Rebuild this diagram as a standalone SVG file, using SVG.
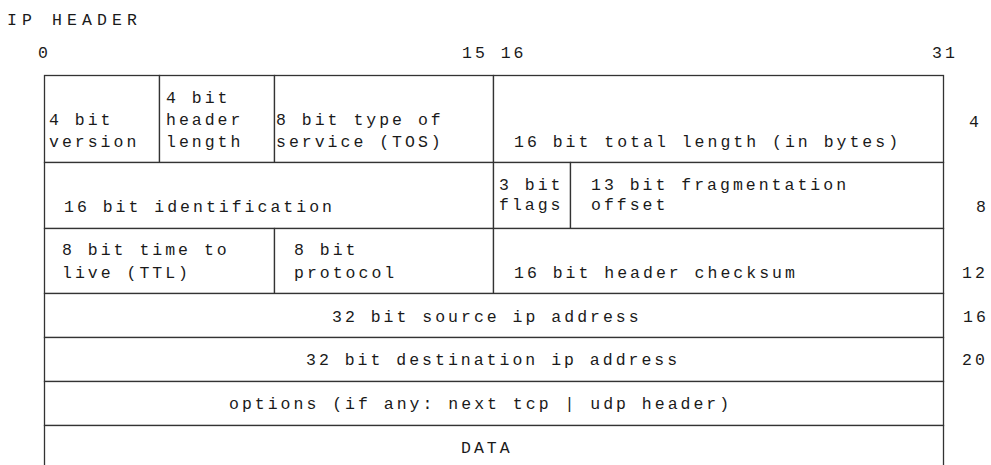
<svg xmlns="http://www.w3.org/2000/svg" width="991" height="465" viewBox="0 0 991 465">
  <style>
    .cell { fill: #ffffff; stroke: #333333; stroke-width: 1.3; }
    .t { font-family: "Liberation Mono", "DejaVu Sans Mono", monospace; font-size: 16.5px; letter-spacing: 3px; fill: #1a1a1a; }
    .title { letter-spacing: 5.1px; }
  </style>
  <rect x="0" y="0" width="991" height="465" fill="#ffffff"/>

  <!-- title and bit ruler -->
  <g id="title">
    <text class="t title" x="7" y="25">IP HEADER</text>
  </g>
  <g id="ruler">
    <text class="t" x="38" y="58">0</text>
    <text class="t" x="462" y="58">15 16</text>
    <text class="t" x="932" y="58">31</text>
  </g>

  <!-- byte offsets -->
  <g id="offsets">
    <text class="t" x="969" y="127">4</text>
    <text class="t" x="976" y="212">8</text>
    <text class="t" x="962" y="278">12</text>
    <text class="t" x="963" y="322">16</text>
    <text class="t" x="962" y="365">20</text>
  </g>

  <!-- row 1 -->
  <g id="version">
    <rect class="cell" x="44.5" y="75.5" width="115" height="87"/>
    <text class="t" x="49" y="125">4 bit</text>
    <text class="t" x="49" y="147">version</text>
  </g>
  <g id="header-length">
    <rect class="cell" x="159.5" y="75.5" width="115" height="87"/>
    <text class="t" x="166" y="103">4 bit</text>
    <text class="t" x="166" y="125">header</text>
    <text class="t" x="166" y="147">length</text>
  </g>
  <g id="tos">
    <rect class="cell" x="274.5" y="75.5" width="219" height="87"/>
    <text class="t" x="276" y="125">8 bit type of</text>
    <text class="t" x="276" y="147">service (TOS)</text>
  </g>
  <g id="total-length">
    <rect class="cell" x="493.5" y="75.5" width="450" height="87"/>
    <text class="t" x="514" y="147">16 bit total length (in bytes)</text>
  </g>

  <!-- row 2 -->
  <g id="identification">
    <rect class="cell" x="44.5" y="162.5" width="449" height="66"/>
    <text class="t" x="64" y="212">16 bit identification</text>
  </g>
  <g id="flags">
    <rect class="cell" x="493.5" y="162.5" width="77" height="66"/>
    <text class="t" x="499" y="190">3 bit</text>
    <text class="t" x="499" y="210">flags</text>
  </g>
  <g id="fragment-offset">
    <rect class="cell" x="570.5" y="162.5" width="373" height="66"/>
    <text class="t" x="591" y="190">13 bit fragmentation</text>
    <text class="t" x="591" y="210">offset</text>
  </g>

  <!-- row 3 -->
  <g id="ttl">
    <rect class="cell" x="44.5" y="228.5" width="230" height="65"/>
    <text class="t" x="62" y="255">8 bit time to</text>
    <text class="t" x="62" y="278">live (TTL)</text>
  </g>
  <g id="protocol">
    <rect class="cell" x="274.5" y="228.5" width="219" height="65"/>
    <text class="t" x="294" y="255">8 bit</text>
    <text class="t" x="294" y="278">protocol</text>
  </g>
  <g id="checksum">
    <rect class="cell" x="493.5" y="228.5" width="450" height="65"/>
    <text class="t" x="514" y="278">16 bit header checksum</text>
  </g>

  <!-- full-width rows -->
  <g id="source-address">
    <rect class="cell" x="44.5" y="293.5" width="899" height="44"/>
    <text class="t" x="332" y="322">32 bit source ip address</text>
  </g>
  <g id="destination-address">
    <rect class="cell" x="44.5" y="337.5" width="899" height="44"/>
    <text class="t" x="306" y="365">32 bit destination ip address</text>
  </g>
  <g id="options">
    <rect class="cell" x="44.5" y="381.5" width="899" height="44"/>
    <text class="t" x="229" y="409">options (if any: next tcp | udp header)</text>
  </g>
  <g id="data">
    <rect class="cell" x="44.5" y="425.5" width="899" height="50"/>
    <text class="t" x="461" y="453">DATA</text>
  </g>

  <!-- no connectors in this layout -->
  <g id="connectors"/>
</svg>
